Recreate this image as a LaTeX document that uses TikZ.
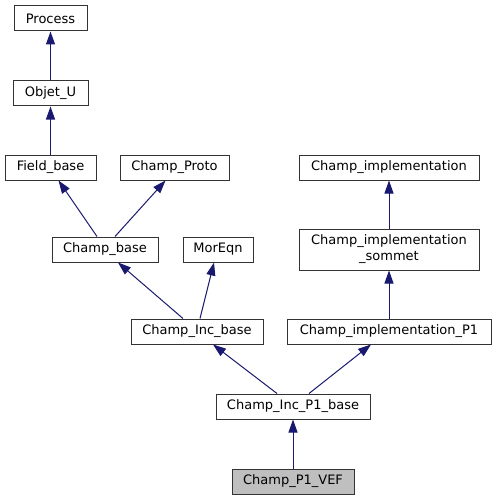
\documentclass[tikz,border=0pt]{standalone}
\usepackage{fontspec}
\setmainfont{DejaVu Sans}
\usetikzlibrary{arrows.meta}
\definecolor{edgecol}{HTML}{191970}
\definecolor{boxline}{HTML}{333333}
\definecolor{curfill}{HTML}{BFBFBF}
\begin{document}
\begin{tikzpicture}[x=1pt,y=-1pt,
  cls/.style={draw=boxline, line width=1pt, fill=white, inner sep=0pt, align=center,
    font=\fontsize{13}{16}\selectfont, minimum height=25pt},
  cur/.style={cls, fill=curfill},
  inh/.style={draw=edgecol, line width=1pt, -{Triangle[length=13pt,width=9pt]}}]
\useasboundingbox (0,0) rectangle (496,500);
\node[cls, minimum width=73pt] (proc) at (50.5,18.5) {Process};
\node[cls, minimum width=75pt] (obj) at (50.5,93.5) {Objet\_U};
\node[cls, minimum width=91pt] (field) at (50.5,167.5) {Field\_base};
\node[cls, minimum width=109pt] (proto) at (174.5,167.5) {Champ\_Proto};
\node[cls, minimum width=106pt] (cbase) at (105,249.5) {Champ\_base};
\node[cls, minimum width=70pt] (moreqn) at (218,249.5) {MorEqn};
\node[cls, minimum width=180pt] (impl) at (389,167.5) {Champ\_implementation};
\node[cls, minimum width=180pt, minimum height=41pt] (somm) at (389,249.5) {Champ\_implementation\\\_sommet};
\node[cls, minimum width=204pt] (implp1) at (389,331.5) {Champ\_implementation\_P1};
\node[cls, minimum width=132pt] (incbase) at (197,331.5) {Champ\_Inc\_base};
\node[cls, minimum width=154pt] (incp1) at (293,406.5) {Champ\_Inc\_P1\_base};
\node[cur, minimum width=122pt] (vef) at (293,481.5) {Champ\_P1\_VEF};
\draw[inh] (obj) -- (proc);
\draw[inh] (field) -- (obj);
\draw[inh] ([xshift=-8pt]cbase.north) -- ([xshift=8pt]field.south);
\draw[inh] ([xshift=10pt]cbase.north) -- ([xshift=-9pt]proto.south);
\draw[inh] ([xshift=-14pt]incbase.north) -- ([xshift=13pt]cbase.south);
\draw[inh] ([xshift=3pt]incbase.north) -- ([xshift=-4pt]moreqn.south);
\draw[inh] ([xshift=-16pt]incp1.north) -- ([xshift=16pt]incbase.south);
\draw[inh] ([xshift=16pt]incp1.north) -- ([xshift=-18pt]implp1.south);
\draw[inh] (vef) -- (incp1);
\draw[inh] (somm) -- (impl);
\draw[inh] (implp1) -- (somm);
\end{tikzpicture}
\end{document}
